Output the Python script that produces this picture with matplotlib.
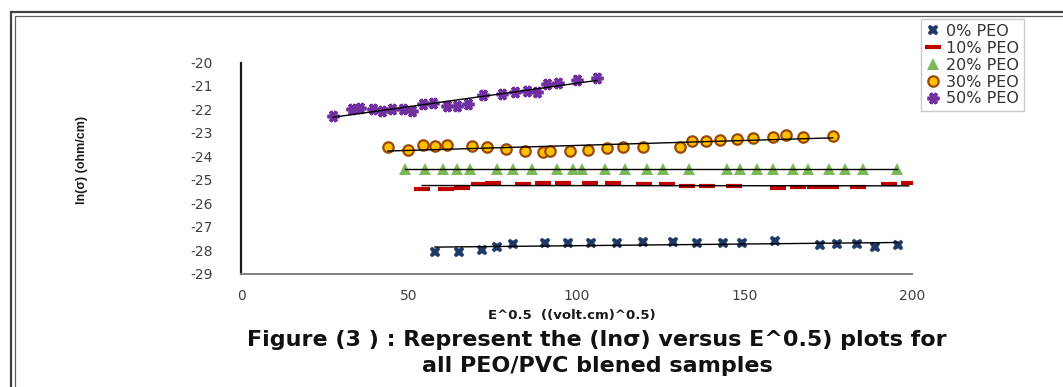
import numpy as np
import matplotlib
matplotlib.use("Agg")
import matplotlib.pyplot as plt
from matplotlib.patches import Rectangle

plt.rcParams["axes.unicode_minus"] = False

# ---- data ----
x0 = [57.8, 65, 71.8, 76.3, 81, 90.6, 97.5, 104.3, 112.2, 119.9, 128.8, 136, 143.7,
      149.4, 159.2, 172.6, 177.6, 183.6, 189, 195.8]
y0 = [-28.1, -28.1, -28.0, -27.85, -27.75, -27.7, -27.7, -27.7, -27.7, -27.65, -27.65,
      -27.7, -27.7, -27.7, -27.6, -27.8, -27.75, -27.75, -27.85, -27.8]

x10 = [54, 61, 66, 71, 75, 84, 90, 96, 104, 111, 120, 127, 133, 139, 147, 160, 166,
       171, 176, 184, 193, 199]
y10 = [-25.4, -25.4, -25.35, -25.2, -25.15, -25.2, -25.15, -25.15, -25.15, -25.15,
       -25.2, -25.2, -25.28, -25.28, -25.28, -25.37, -25.33, -25.33, -25.33, -25.33,
       -25.2, -25.15]

x20 = [48.9, 54.8, 60.2, 64.4, 68.2, 76.3, 81, 86.7, 94.2, 98.9, 101.6, 108.5, 114.5,
       121, 125.8, 133.5, 144.9, 148.7, 153.8, 158.6, 164.5, 169, 175.3, 180.1, 185.4,
       195.5]
y20 = [-24.55] * len(x20)

x30 = [43.8, 49.8, 54.2, 57.8, 61.4, 68.8, 73.3, 79, 84.7, 90, 92.1, 98, 103.4, 109,
       113.9, 119.8, 130.8, 134.4, 138.6, 142.8, 147.8, 152.6, 158.5, 162.4, 167.5, 176.4]
y30 = [-23.62, -23.73, -23.5, -23.55, -23.5, -23.55, -23.59, -23.69, -23.76, -23.83,
       -23.79, -23.79, -23.73, -23.65, -23.59, -23.59, -23.59, -23.35, -23.35, -23.3,
       -23.26, -23.22, -23.18, -23.08, -23.18, -23.12]

x50 = [27.4, 33.1, 35.5, 39.3, 42, 45, 48.3, 51, 54.2, 57.2, 61.4, 64.4, 67.7, 72.2,
       77.8, 81.7, 85.3, 88.3, 91.2, 94.5, 100.1, 106.1]
y50 = [-22.29, -22.0, -21.93, -22.0, -22.08, -22.0, -22.0, -22.08, -21.76, -21.72,
       -21.86, -21.86, -21.79, -21.37, -21.34, -21.25, -21.23, -21.25, -20.92, -20.87,
       -20.73, -20.66]

labels = ["0% PEO", "10% PEO", "20% PEO", "30% PEO", "50% PEO"]
xticks = [0, 50, 100, 150, 200]
yticks = [-20, -21, -22, -23, -24, -25, -26, -27, -28, -29]

W, H = 1063, 387
fig = plt.figure(figsize=(W / 100, H / 100), dpi=100)
fig.patch.set_facecolor("white")

# outer double frame
fig.patches.append(Rectangle((10.5 / W, -0.1), 1.2, (H - 12.5) / H + 0.1,
                             transform=fig.transFigure, fill=False,
                             edgecolor="#404040", lw=1.6))
fig.patches.append(Rectangle((14.5 / W, -0.1), 1.2, (H - 16) / H + 0.1,
                             transform=fig.transFigure, fill=False,
                             edgecolor="#606060", lw=0.9))

ax = fig.add_axes([241 / W, 1 - 273.5 / H, (912 - 241) / W, (273.5 - 62.5) / H])

series = [
    (x0, y0, dict(marker="X", color="#1F3864", markersize=7.5, markeredgewidth=0.3,
                  markeredgecolor="#1F3864")),
    (x10, y10, dict(marker="_", color="#C00000", markersize=12, markeredgewidth=3.0)),
    (x20, y20, dict(marker="^", color="#7CB85A", markersize=8, markeredgewidth=0)),
    (x30, y30, dict(marker="o", markerfacecolor="#FFC000", markeredgecolor="#9A4A08",
                    markersize=7.5, markeredgewidth=1.6, color="#FFC000")),
    (x50, y50, dict(marker=(6, 2, 90), color="#7030A0", markersize=8.5,
                    markeredgewidth=2.6)),
]

handles = []
for (xs, ys, style), lab in zip(series, labels):
    h, = ax.plot(xs, ys, linestyle="none", label=lab, **style)
    handles.append(h)
    xa = np.array(xs)
    k, b = np.polyfit(xa, np.array(ys), 1)
    xx = np.array([xa.min(), xa.max()])
    ax.plot(xx, k * xx + b, color="black", lw=1.0, zorder=3)

ax.set_xlim(0, 200)
ax.set_ylim(-29, -20)
ax.set_xticks(xticks)
ax.set_yticks(yticks)
ax.tick_params(length=0, labelsize=10, labelcolor="#404040")
ax.tick_params(axis="y", pad=20)
ax.tick_params(axis="x", pad=11)
for t in ax.get_xticklabels() + ax.get_yticklabels():
    t.set_family("DejaVu Sans")
ax.spines["top"].set_visible(False)
ax.spines["right"].set_visible(False)
ax.spines["left"].set_color("#1a1a1a")
ax.spines["left"].set_linewidth(1.6)
ax.spines["bottom"].set_color("#808080")
ax.spines["bottom"].set_linewidth(1.4)
ax.set_facecolor("none")

fig.text(82 / W, 1 - 160 / H, "ln(σ) (ohm/cm)", rotation=90, ha="center", va="center",
         fontsize=9, fontweight="bold", family="Liberation Sans", color="#1a1a1a")
fig.text(572 / W, 1 - 316 / H, "E^0.5  ((volt.cm)^0.5)", ha="center", va="center",
         fontsize=9.5, fontweight="bold", family="DejaVu Sans", color="#1a1a1a")

fig.text(597 / W, 1 - 340 / H,
         "Figure (3 ) : Represent the (lnσ) versus E^0.5) plots for",
         ha="center", va="center", fontsize=16, fontweight="bold",
         family="DejaVu Sans", color="#111111")
fig.text(597 / W, 1 - 366 / H, "all PEO/PVC blened samples",
         ha="center", va="center", fontsize=16, fontweight="bold",
         family="DejaVu Sans", color="#111111")

leg = fig.legend(handles=handles, labels=labels, loc="upper left",
                 bbox_to_anchor=(921 / W, 1 - 19 / H), frameon=True, fancybox=False,
                 edgecolor="#BFBFBF", handlelength=0.9,
                 handletextpad=0.35, labelspacing=0.12, borderpad=0.3,
                 borderaxespad=0, prop={"family": "DejaVu Sans", "size": 11.5})
leg.get_frame().set_linewidth(1.0)
for t in leg.get_texts():
    t.set_color("#333333")

fig.savefig("out.png", dpi=100, facecolor="white")
